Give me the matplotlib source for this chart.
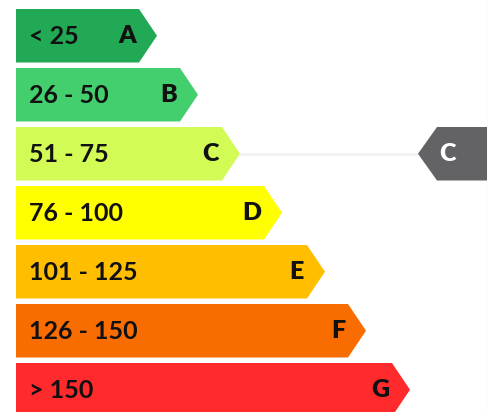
import matplotlib
matplotlib.use("Agg")
import matplotlib.pyplot as plt
from matplotlib.patches import Polygon

# ---- data ----
grades = ["A", "B", "C", "D", "E", "F", "G"]
ranges = ["< 25", "26 - 50", "51 - 75", "76 - 100", "101 - 125", "126 - 150", "> 150"]
bar_lengths = [123, 164, 206, 248, 291, 332, 376]
colors = ["#22a955", "#44cf6f", "#d3fb55", "#ffff00", "#ffbf00", "#f96d00", "#ff2a2b"]
current_grade = "C"

# ---- figure ----
W, H = 489, 412
fig = plt.figure(figsize=(W / 100, H / 100), dpi=100)
ax = fig.add_axes([0, 0, 1, 1])
ax.set_xlim(0, W)
ax.set_ylim(H, 0)
ax.axis("off")

x0 = 16
top0 = 9
bar_h = 53.5
step = 59
tip = 18
font = "Lato"

for i, (g, r, L, c) in enumerate(zip(grades, ranges, bar_lengths, colors)):
    top = top0 + i * step
    bot = top + bar_h
    mid = (top + bot) / 2
    xe = x0 + L
    poly = Polygon([(x0, top), (xe, top), (xe + tip, mid), (xe, bot), (x0, bot)],
                   closed=True, facecolor=c, edgecolor="none")
    ax.add_patch(poly)
    ax.text(x0 + 13, mid + 1, r, fontsize=18, fontfamily=font, fontweight="bold",
            ha="left", va="center", color="#111111")
    ax.text(xe - 3, mid, g, fontsize=18, fontfamily=font, fontweight="heavy",
            ha="right", va="center", color="#111111")
    if g == current_grade:
        mtip = 418
        mstart = 437
        mend = 487
        ax.plot([xe + tip, mtip], [mid, mid], color="#f2f2f2", lw=2, zorder=0,
                solid_capstyle="butt")
        mp = Polygon([(mend, top), (mstart, top), (mtip, mid), (mstart, bot), (mend, bot)],
                     closed=True, facecolor="#636366", edgecolor="none")
        ax.add_patch(mp)
        ax.text(447, mid, g, fontsize=18, fontfamily=font, fontweight="heavy",
                ha="center", va="center", color="white")

ax.plot([488, 488], [0, H], color="#eeeeee", lw=1)

fig.savefig("out.png", dpi=100)
